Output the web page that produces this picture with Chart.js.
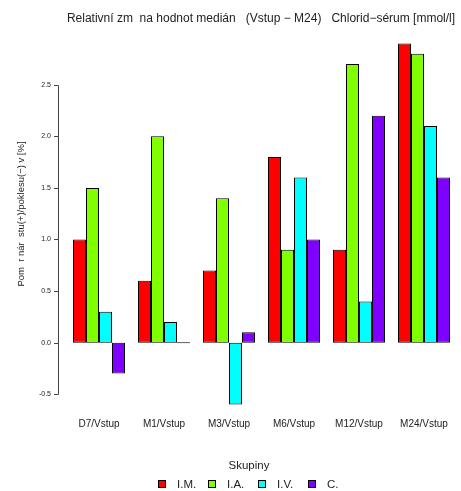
<!DOCTYPE html>
<html>
<head>
<meta charset="utf-8">
<script src="https://cdn.jsdelivr.net/npm/chart.js@4/dist/chart.umd.min.js"></script>
<style>
  html, body { margin: 0; padding: 0; background: #fff; }
  #wrap { width: 461px; height: 491px; }
</style>
</head>
<body>
<div id="wrap"><canvas id="c" width="461" height="491"></canvas></div>
<script>
const categories = ['D7/Vstup', 'M1/Vstup', 'M3/Vstup', 'M6/Vstup', 'M12/Vstup', 'M24/Vstup'];
const groupNames = ['I.M.', 'I.A.', 'I.V.', 'C.'];
const im = [1.0, 0.6, 0.7, 1.8, 0.9, 2.9];
const ia = [1.5, 2.0, 1.4, 0.9, 2.7, 2.8];
const iv = [0.3, 0.2, -0.6, 1.6, 0.4, 2.1];
const cc = [-0.3, 0.0, 0.1, 1.0, 2.2, 1.6];
const yTicks = [-0.5, 0.0, 0.5, 1.0, 1.5, 2.0, 2.5];
const colors = ['#FF0000', '#80FF00', '#00FFFF', '#8000FF'];

const titleText = 'Relativní zm  na hodnot medián   (Vstup \u2212 M24)   Chlorid\u2212sérum [mmol/l]';
const yLabel = 'Pom  r nár  stu(+)/poklesu(\u2212) v [%]';
const FONT = '"Liberation Sans", Arial, sans-serif';

// axes, labels, title and legend drawn R-style on top of the library's scales
const rStyle = {
    id: 'rStyle',
    afterDraw(chart) {
        const ctx = chart.ctx;
        const y = chart.scales.y, x = chart.scales.x;
        const axisX = 58;
        ctx.save();
        ctx.strokeStyle = '#444';
        ctx.lineWidth = 1;
        ctx.beginPath();
        ctx.moveTo(axisX + 0.5, Math.round(y.getPixelForValue(yTicks[0])) + 0.5);
        ctx.lineTo(axisX + 0.5, Math.round(y.getPixelForValue(yTicks[yTicks.length - 1])) + 0.5);
        ctx.stroke();
        ctx.fillStyle = '#222';
        ctx.font = '7px ' + FONT;
        ctx.textAlign = 'right';
        ctx.textBaseline = 'middle';
        yTicks.forEach(v => {
            const py = Math.round(y.getPixelForValue(v)) + 0.5;
            ctx.beginPath();
            ctx.moveTo(axisX - 4, py);
            ctx.lineTo(axisX + 0.5, py);
            ctx.stroke();
            ctx.fillText(v.toFixed(1), axisX - 7, py);
        });
        // category labels
        ctx.font = '10px ' + FONT;
        ctx.textAlign = 'center';
        categories.forEach((c, i) => {
            ctx.fillText(c, x.getPixelForValue(i), 424);
        });
        // title
        ctx.font = '12px ' + FONT;
        ctx.fillText(titleText, 261, 19);
        // y label
        ctx.save();
        ctx.translate(21, 214);
        ctx.rotate(-Math.PI / 2);
        ctx.font = '9.5px ' + FONT;
        ctx.fillText(yLabel, 0, 0);
        ctx.restore();
        // legend
        ctx.font = '11.5px ' + FONT;
        ctx.fillText('Skupiny', 249, 466);
        ctx.textAlign = 'left';
        groupNames.forEach((g, i) => {
            const bx = 158 + i * 50;
            ctx.fillStyle = colors[i];
            ctx.fillRect(bx, 480, 8, 8);
            ctx.strokeStyle = '#000';
            ctx.strokeRect(bx + 0.5, 480.5, 7, 7);
            ctx.fillStyle = '#222';
            ctx.fillText(g, bx + 19, 484.5);
        });
        ctx.restore();
    }
};

const series = [im, ia, iv, cc];
new Chart(document.getElementById('c'), {
    type: 'bar',
    data: {
        labels: categories,
        datasets: series.map((d, i) => ({
            label: groupNames[i],
            data: d,
            backgroundColor: colors[i],
            borderColor: '#000',
            borderWidth: 1,
            borderSkipped: false,
            minBarLength: 1,
            categoryPercentage: 0.8,
            barPercentage: 1.0
        }))
    },
    options: {
        responsive: false,
        animation: false,
        layout: { padding: { left: 66.5, right: 4.5, top: 29, bottom: 72 } },
        plugins: { legend: { display: false }, title: { display: false }, tooltip: { enabled: false } },
        scales: {
            x: { display: false, offset: true, grid: { display: false } },
            y: { display: false, min: -0.74, max: 3.04 }
        }
    },
    plugins: [rStyle]
});
</script>
</body>
</html>
